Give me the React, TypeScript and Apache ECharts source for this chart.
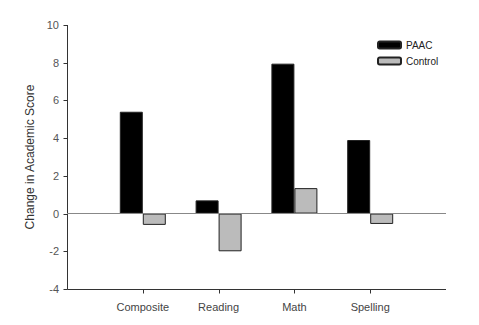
import React, { useEffect, useRef } from "react";
import * as echarts from "echarts";

const categories = ["", "Composite", "Reading", "Math", "Spelling", ""];
const paacValues = [null, 5.4, 0.7, 7.95, 3.9, null];
const controlValues = [null, -0.6, -2.0, 1.35, -0.55, null];
const yTicks = { min: -4, max: 10, interval: 2 };

const FONT = "Liberation Sans, Arial, sans-serif";
const AXIS = "#333";

export default function App() {
  const ref = useRef<HTMLDivElement>(null);
  useEffect(() => {
    if (!ref.current) return;
    const chart = echarts.init(ref.current, null, { renderer: "svg" });
    const last = categories.length - 1;
    chart.setOption({
      animation: false,
      grid: { left: 67, right: 33, top: 25, bottom: 36 },
      legend: {
        orient: "vertical",
        left: 372,
        top: 35,
        itemWidth: 23,
        itemHeight: 7,
        itemGap: 6,
        textStyle: { fontSize: 10, color: "#222", fontFamily: FONT },
        data: ["PAAC", "Control"],
      },
      xAxis: {
        type: "category",
        data: categories,
        boundaryGap: false,
        axisLine: { show: false, onZero: false },
        axisTick: { show: false },
        axisLabel: { color: "#444", fontSize: 11, margin: 12, interval: 0, fontFamily: FONT },
        splitLine: { show: false },
      },
      yAxis: {
        type: "value",
        min: yTicks.min,
        max: yTicks.max,
        interval: yTicks.interval,
        name: "Change in Academic Score",
        nameLocation: "middle",
        nameGap: 31,
        nameTextStyle: { fontSize: 12, color: "#333", fontFamily: FONT },
        axisLine: { show: false, onZero: false },
        axisTick: { show: false },
        axisLabel: { color: "#555", fontSize: 11, margin: 8, fontFamily: FONT },
        splitLine: { show: false },
      },
      series: [
        {
          name: "PAAC",
          type: "bar",
          data: paacValues,
          barWidth: 23,
          barGap: "0%",
          itemStyle: { color: "#000", borderColor: "#222", borderWidth: 1 },
          markLine: {
            symbol: "none",
            silent: true,
            label: { show: false },
            lineStyle: { color: "#888", width: 1, type: "solid" },
            data: [{ yAxis: 0 }],
          },
        },
        {
          name: "Control",
          type: "bar",
          data: controlValues,
          barWidth: 23,
          barGap: "0%",
          itemStyle: { color: "#bbb", borderColor: "#222", borderWidth: 1 },
        },
      ],
    });

    // Axis lines and ticks, positioned through the chart's own scales
    const px = (v: [number, number]) => chart.convertToPixel({ gridIndex: 0 }, v) as number[];
    const crisp = (n: number) => Math.round(n) + 0.5;
    const [ax0, ayMin] = px([0, yTicks.min]);
    const [, ayMax] = px([0, yTicks.max]);
    const [axEnd] = px([last, yTicks.min]);
    const x0 = crisp(ax0);
    const yB = crisp(ayMin);
    const lineStyle = { stroke: AXIS, lineWidth: 1 };
    const elements: any[] = [
      { type: "line", shape: { x1: x0, y1: Math.round(ayMax), x2: x0, y2: yB }, style: lineStyle, silent: true },
      { type: "line", shape: { x1: x0, y1: yB, x2: Math.round(axEnd), y2: yB }, style: lineStyle, silent: true },
    ];
    for (let v = yTicks.min; v <= yTicks.max; v += yTicks.interval) {
      const y = crisp(px([0, v])[1]);
      elements.push({ type: "line", shape: { x1: x0 - 4, y1: y, x2: x0, y2: y }, style: lineStyle, silent: true });
    }
    for (let i = 1; i < last; i++) {
      const x = crisp(px([i, yTicks.min])[0]);
      elements.push({ type: "line", shape: { x1: x, y1: yB, x2: x, y2: yB + 4 }, style: lineStyle, silent: true });
    }
    chart.setOption({ graphic: { elements } });

    return () => chart.dispose();
  }, []);
  return <div ref={ref} style={{ width: 479, height: 325, position: "absolute", left: 0, top: 0 }} />;
}
